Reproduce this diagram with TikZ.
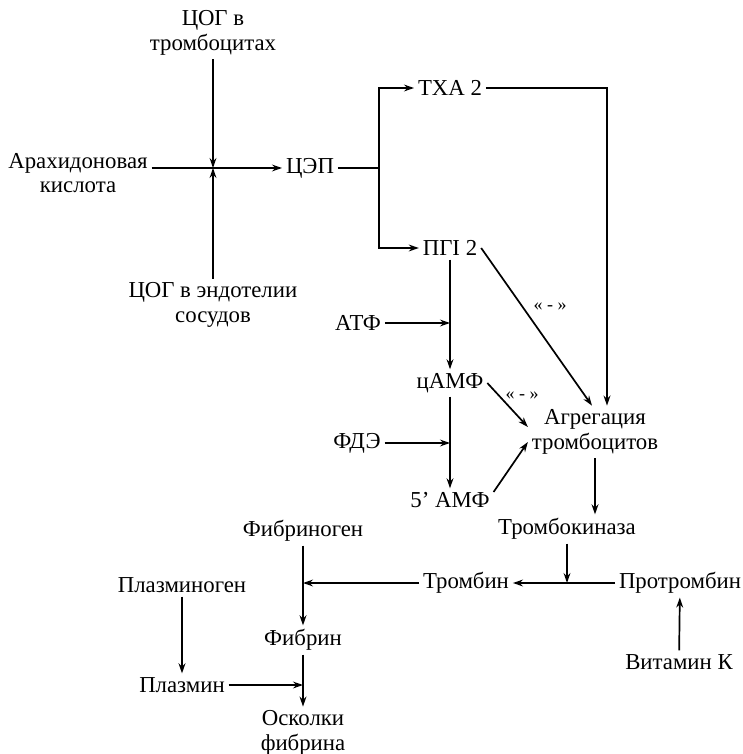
\documentclass[tikz,border=0pt]{standalone}
\usepackage{fontspec}
\setmainfont{Liberation Serif}
\usetikzlibrary{arrows.meta, positioning, calc}

\begin{document}
\begin{tikzpicture}[
    x=0.5pt, y=-0.5pt,
    >={Stealth[length=5pt, width=3.4pt]}, line width=0.85pt,
    every node/.style={font=\fontsize{11.4}{12.4}\selectfont, inner sep=2pt, outer sep=0pt, align=center},
    minus/.style={font=\fontsize{9}{9}\selectfont}
]
\useasboundingbox (0,0) rectangle (743,754);

% Cyclooxygenase block
\node (cogt) at (213,33) {ЦОГ в\\тромбоцитах};
\node (arach) at (78,173) {Арахидоновая\\кислота};
\node (coge) at (213,305) {ЦОГ в эндотелии\\сосудов};
\node (cep) at (310,168) {ЦЭП};
\coordinate (junc) at (cogt |- cep);
\coordinate (split) at (379,168);

% Prostanoids
\node (txa) at (450,88) {ТХА 2};
\node (pgi) at (450,248) {ПГI 2};

% cAMP chain
\node (atf) at (358,323) {АТФ};
\node (camf) at (450,383) {цАМФ};
\node (fde) at (357,443) {ФДЭ};
\node (amf) at (450,500) {5’ АМФ};
\node (agr) at (595,432) {Агрегация\\тромбоцитов};

% Coagulation
\node (tk) at (567,529) {Тромбокиназа};
\node (trombin) at (466,583) {Тромбин};
\node (protr) at (680,583) {Протромбин};
\node (vitk) at (679,662) {Витамин К};
\node (fibrinogen) at (303,531) {Фибриноген};
\node (fibrin) at (303,640) {Фибрин};
\node (oskolki) at (303,733) {Осколки\\фибрина};
\node (plasminogen) at (182,585) {Плазминоген};
\node (plasmin) at (182,685) {Плазмин};

% Labels
\node[minus] (minus1) at (550,307) {« - »};
\node[minus] (minus2) at (522,396) {« - »};

% Arrows: top part
\draw[->] (arach.east |- cep) -- (cep);
\draw[->] (cogt) -- (junc);
\draw[->] (coge) -- (junc);
\draw (cep) -- (split);
\draw[->] (split) |- (txa);
\draw[->] (split) |- (pgi);
\draw[->] (txa.east) -| ([xshift=6pt]agr.north);
\draw[->] (pgi.east) -- ([xshift=-1.5pt]agr.north);

% Arrows: cAMP
\draw[->] (pgi) -- (camf);
\draw[->] (atf) -- (atf -| camf);
\draw[->] (camf) -- (amf);
\draw[->] (fde) -- (fde -| camf);
\draw[->] (camf.east) -- ([yshift=2.5pt]agr.west);
\draw[->] ([yshift=4pt]amf.east) -- ([yshift=-5pt]agr.west);

% Arrows: coagulation
\draw[->] (agr.south) -- (agr.south |- tk.north);
\draw[->] (tk) -- (tk |- trombin);
\draw[->] (protr) -- (trombin);
\draw[->] (vitk) -- (protr);
\draw[->] (trombin) -- (trombin -| fibrinogen);
\draw[->] (fibrinogen) -- (fibrin);
\draw[->] (fibrin) -- (oskolki);
\draw[->] (plasminogen) -- (plasmin);
\draw[->] (plasmin) -- (plasmin -| fibrin);
\end{tikzpicture}
\end{document}
